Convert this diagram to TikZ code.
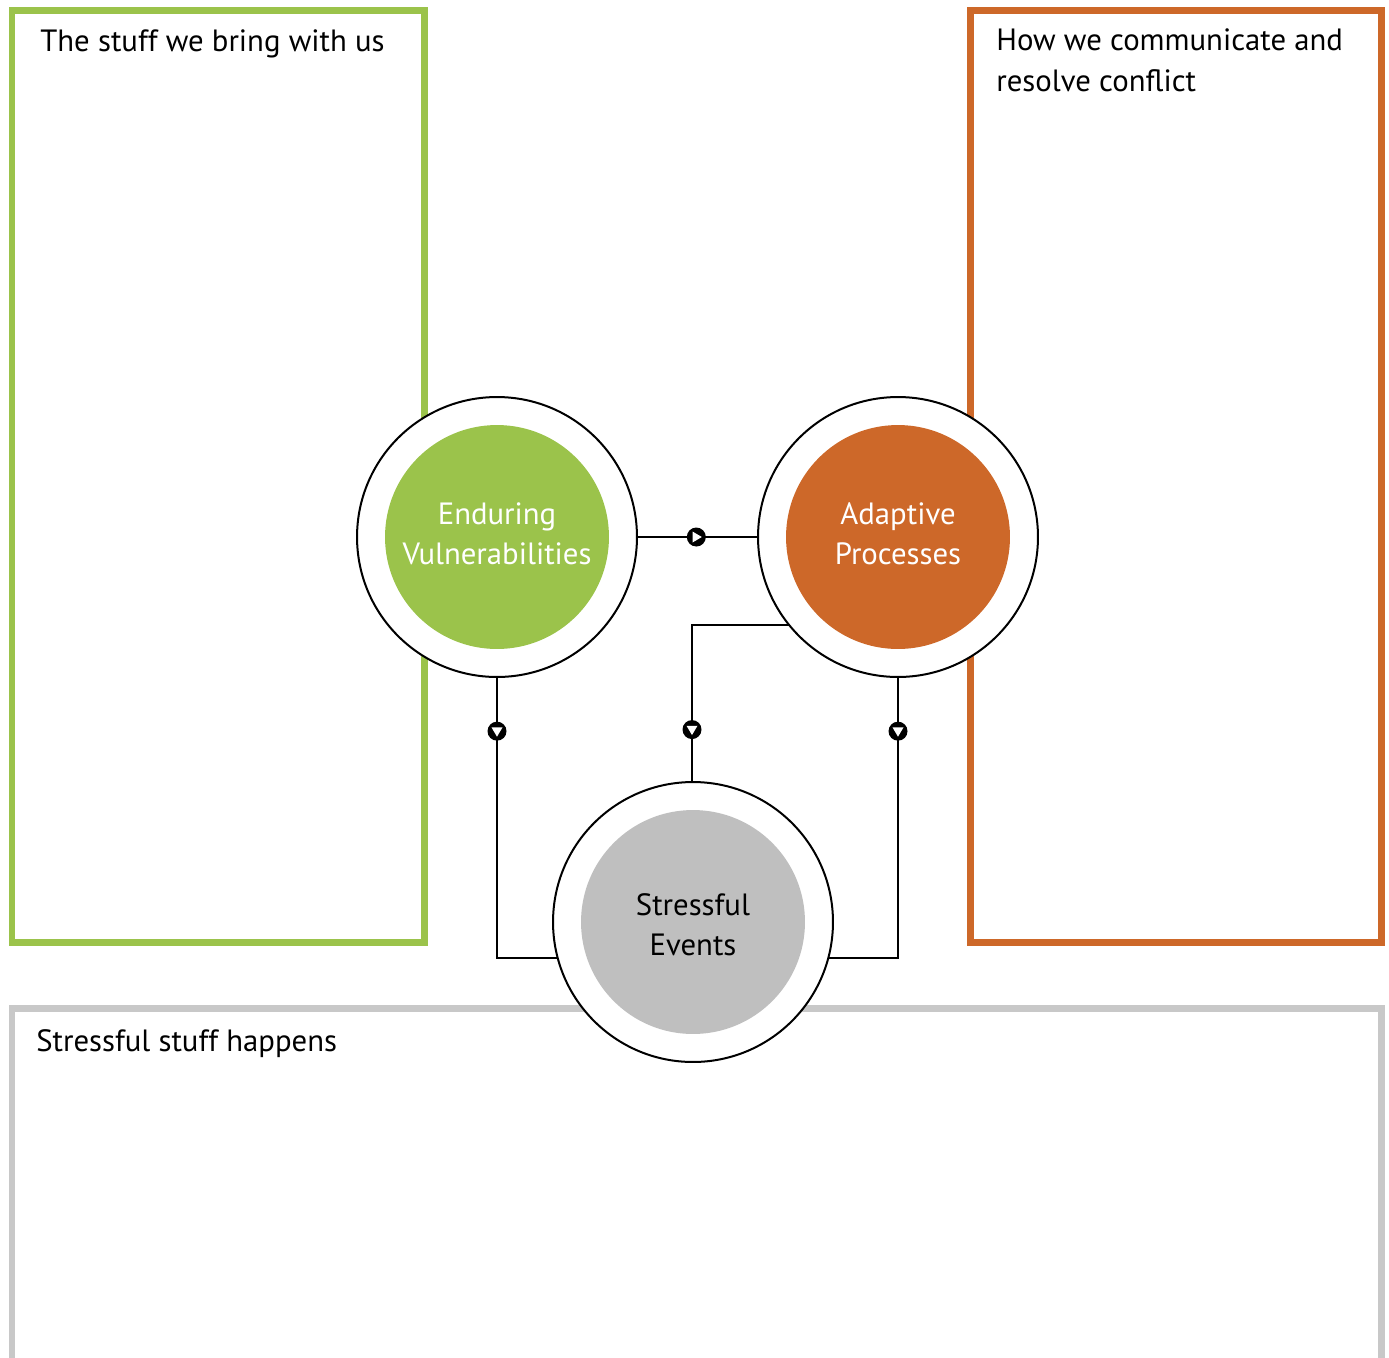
\documentclass[tikz,border=0pt]{standalone}
\usepackage{fontspec}
\setmainfont{PT Sans}
\usetikzlibrary{backgrounds}
\definecolor{cgreen}{HTML}{9BC34B}
\definecolor{corange}{HTML}{CD6829}
\definecolor{cgray}{HTML}{BFBFBF}
\definecolor{cboxgray}{HTML}{C8C8C8}
\begin{document}
\begin{tikzpicture}[x=0.02cm,y=-0.02cm,
  outer/.style={circle,draw=black,line width=0.04cm,fill=white,minimum size=5.6cm,inner sep=0pt},
  inner/.style={circle,minimum size=4.48cm,inner sep=0pt},
  ctext/.style={inner sep=0pt,align=center,font=\fontsize{17.5pt}{22.8pt}\selectfont},
  conn/.style={draw=black,line width=0.045cm},
  boxline/.style={line width=0.14cm},
  label/.style={anchor=base west,inner sep=0pt,align=left,font=\fontsize{17.5pt}{22.8pt}\selectfont},
  mk/.pic={\fill[black] (0,0) circle[radius=9.5]; \fill[white] (5.5,0) -- (-3.8,-5.5) -- (-3.8,5.5) -- cycle;}]
\useasboundingbox (0,0) rectangle (1389,1357);
% circles
\node[outer] (ev) at (497,537) {};
\node[inner,fill=cgreen] (evi) at (497,537) {};
\node[ctext,text=white] (evt) at (497,534) {Enduring\\Vulnerabilities};
\node[outer] (ap) at (898,537) {};
\node[inner,fill=corange] (api) at (898,537) {};
\node[ctext,text=white] (apt) at (898,534) {Adaptive\\Processes};
\node[outer] (se) at (693,922) {};
\node[inner,fill=cgray] (sei) at (693,922) {};
\node[ctext,text=black] (set) at (693,925) {Stressful\\Events};
% labels
\node[label] (t1) at (40,51) {The stuff we bring with us};
\node[label] (t2) at (996,91) {How we communicate and\\resolve conflict};
\node[label] (t3) at (36,1051) {Stressful stuff happens};
\coordinate (c1) at (497,958);
\coordinate (c2) at (898,958);
\coordinate (c3) at (692,625);
\begin{pgfonlayer}{background}
\draw[boxline,draw=cgreen] (12,10) rectangle (424,942);
\draw[boxline,draw=corange] (970,10) rectangle (1381,942);
\draw[boxline,draw=cboxgray] (12,1380) -- (12,1008) -- (1381,1008) -- (1381,1380);
\draw[conn] (ev.east) -- pic[pos=0.49,sloped]{mk} (ap.west);
\draw[conn] (ev.south) -- pic[pos=0.19,sloped]{mk} (c1) -- (c1 -| se.center);
\draw[conn] (ap.south) -- pic[pos=0.19,sloped]{mk} (c2) -- (c2 -| se.center);
\draw[conn] (c3 -| ap.center) -- (c3) -- pic[pos=0.67,sloped]{mk} (c3 |- se.north);
\end{pgfonlayer}
\end{tikzpicture}
\end{document}
